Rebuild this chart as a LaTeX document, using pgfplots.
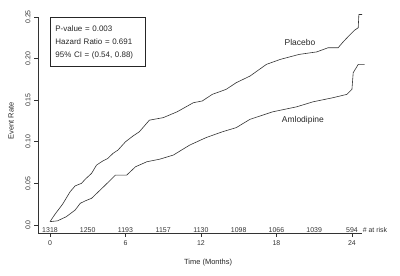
\documentclass[border=0pt]{standalone}
\usepackage{fontspec}
\setmainfont{Liberation Sans}
\usepackage{pgfplots}
\pgfplotsset{compat=1.18}
\begin{document}
\begin{tikzpicture}
\begin{axis}[
 scale only axis, width=324bp, height=216bp,
 xmin=-0.954, xmax=24.80, ymin=-0.0096, ymax=0.25,
 axis x line=bottom, axis y line=left,
 axis line style={-, line width=0.6bp, black!80},
 xtick={0,6,12,18,24}, xticklabels={0,6,12,18,24},
 ytick={0,0.05,0.1,0.15,0.2,0.25},
 yticklabels={0.0,0.05,0.10,0.15,0.20,0.25},
 tick align=outside, major tick length=4bp,
 tick style={line width=0.6bp, black!80},
 ticklabel style={font=\fontsize{7}{8}\selectfont, text=black!80},
 yticklabel style={rotate=90, anchor=south},
 xlabel={Time (Months)}, ylabel={Event Rate},
 label style={font=\fontsize{7.5}{9}\selectfont, text=black!85},
 xlabel style={at={(rel axis cs:0.525,0)}, anchor=center, yshift=-30bp},
 ylabel style={at={(rel axis cs:0,0.519)}, anchor=center, yshift=27bp},
 clip=false,
 /pgf/number format/assume math mode=true,
]
% Placebo
\addplot[line width=0.6bp, black!80] coordinates {
(0,0.004) (0.4,0.013) (1.0,0.025) (1.6,0.040) (2.0,0.047) (2.5,0.050) (2.8,0.055)
(3.3,0.062) (3.7,0.072) (4.2,0.077) (4.6,0.080) (5.0,0.086) (5.4,0.090) (6.0,0.100)
(6.6,0.107) (7.1,0.112) (7.9,0.126) (9.0,0.129) (10.1,0.136) (11.4,0.147)
(12.1,0.149) (12.9,0.157) (14.0,0.163) (14.8,0.171) (15.9,0.179) (17.2,0.193)
(18.3,0.199) (19.8,0.205) (21.2,0.208) (22.1,0.213) (22.9,0.213) (23.3,0.220)
(23.8,0.228) (24.2,0.234) (24.5,0.237) (24.55,0.253) (24.8,0.253)
};
% Amlodipine
\addplot[line width=0.6bp, black!80] coordinates {
(0,0.004) (0.6,0.005) (1.3,0.010) (2.0,0.018) (2.4,0.026) (2.8,0.029) (3.3,0.032)
(4.4,0.048) (5.2,0.060) (6.1,0.060) (6.8,0.070) (7.7,0.076) (8.7,0.079) (9.8,0.084)
(11.1,0.096) (12.4,0.105) (13.7,0.112) (14.8,0.117) (15.9,0.127) (17.7,0.136)
(19.6,0.142) (20.9,0.148) (22.5,0.153) (23.6,0.157) (24.0,0.163) (24.1,0.183)
(24.5,0.193) (25.0,0.193)
};
% numbers at risk
\addplot[draw=none, mark=none, nodes near coords, point meta=explicit symbolic,
 nodes near coords style={anchor=center, font=\fontsize{7}{8}\selectfont, text=black!80, inner sep=0pt}]
 table[meta=label] {
t y label
0 -0.006 1318
3 -0.006 1250
6 -0.006 1193
9 -0.006 1157
12 -0.006 1130
15 -0.006 1098
18 -0.006 1066
21 -0.006 1039
24 -0.006 594
};
\node[font=\fontsize{7}{8}\selectfont, text=black!80, inner sep=0pt] at (axis cs:25.83,-0.006) {\# at risk};
\node[font=\fontsize{8.5}{10}\selectfont, text=black!85] at (axis cs:19.87,0.2188) {Placebo};
\node[font=\fontsize{8.5}{10}\selectfont, text=black!85] at (axis cs:20.1,0.1262) {Amlodipine};
\node[draw=black!85, line width=0.8bp, anchor=north west, inner xsep=5bp, inner ysep=8bp,
 text width=85bp, align=left, font=\fontsize{8}{13}\selectfont, text=black!85]
 at (axis cs:0,0.25) {P-value = 0.003\\Hazard Ratio = 0.691\\95\% CI = (0.54, 0.88)};
\coordinate (bbl) at (axis cs:-3.975,-0.0613);
\coordinate (btr) at (axis cs:27.82,0.2704);
\end{axis}
\pgfresetboundingbox
\path[use as bounding box] (bbl) rectangle (btr);
\end{tikzpicture}
\end{document}
